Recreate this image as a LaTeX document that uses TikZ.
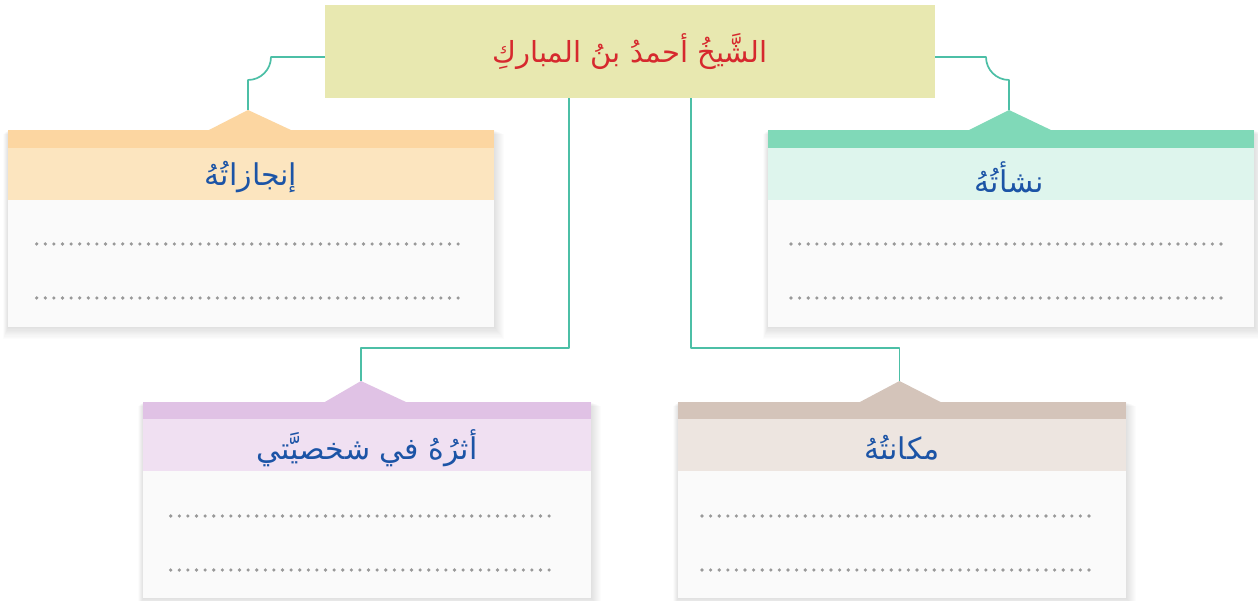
\documentclass[tikz,border=0pt]{standalone}
\usepackage{fontspec}
\usepackage{tikz}
\TeXXeTstate=1
\newfontfamily\arabicfont[Script=Arabic]{DejaVu Sans}
\definecolor{titleolive}{rgb}{0.91,0.91,0.69}
\definecolor{titlered}{rgb}{0.84,0.16,0.18}
\definecolor{headblue}{rgb}{0.11,0.33,0.65}
\definecolor{linkteal}{rgb}{0.3,0.75,0.65}
\definecolor{peachdark}{rgb}{0.99,0.84,0.63}
\definecolor{peachlight}{rgb}{0.99,0.9,0.75}
\definecolor{mintdark}{rgb}{0.5,0.85,0.72}
\definecolor{mintlight}{rgb}{0.87,0.96,0.93}
\definecolor{lilacdark}{rgb}{0.88,0.76,0.9}
\definecolor{lilaclight}{rgb}{0.94,0.88,0.95}
\definecolor{sanddark}{rgb}{0.83,0.77,0.73}
\definecolor{sandlight}{rgb}{0.93,0.9,0.88}
\definecolor{cardgray}{rgb}{0.98,0.98,0.98}
\definecolor{dotgray}{rgb}{0.6,0.6,0.6}
\tikzset{
  link/.style={linkteal, line width=1.7pt},
  shadowstep/.style={black, opacity=0.011},
  dotline/.style={dotgray, line width=3.6pt, line cap=round, dash pattern=on 0pt off 8.6pt},
  headtext/.style={text=headblue, inner sep=0pt, font=\arabicfont\fontsize{30}{34}\selectfont},
}

\begin{document}
\begin{tikzpicture}[line join=round, x=1pt, y=-1pt]
\fill[white] (0,0) rectangle (1258,601);
\useasboundingbox (0,0) rectangle (1258,601);
\node[fill=titleolive, minimum width=610pt, minimum height=93pt, inner sep=0pt, text=titlered, font=\arabicfont\fontsize{29}{33}\selectfont] (sheikh) at (630,51.5) {\beginR الشَّيخُ أحمدُ بنُ المباركِ\endR};
% injazat
\foreach \d in {1,...,10} \fill[shadowstep] (8-0.5*\d,130+0.4*\d) rectangle (494+\d,327+1.2*\d);
\fill[cardgray] (8,130) rectangle (494,327);
\fill[peachlight] (8,148) rectangle (494,200);
\fill[peachdark] (8,130) rectangle (494,148);
\coordinate (injazat-tip) at (248,110);
\fill[peachdark] (208,130.5) -- (injazat-tip) -- (292,130.5) -- cycle;
\node[headtext] (injazat) at (251,177) {\beginR إنجازاتُهُ\endR};
\draw[dotline] (36.7,244) -- (466,244);
\draw[dotline] (36.7,298) -- (466,298);
% nashaa
\foreach \d in {1,...,10} \fill[shadowstep] (768-0.5*\d,130+0.4*\d) rectangle (1254+\d,327+1.2*\d);
\fill[cardgray] (768,130) rectangle (1254,327);
\fill[mintlight] (768,148) rectangle (1254,200);
\fill[mintdark] (768,130) rectangle (1254,148);
\coordinate (nashaa-tip) at (1009,110);
\fill[mintdark] (968,130.5) -- (nashaa-tip) -- (1052,130.5) -- cycle;
\node[headtext] (nashaa) at (1009,177) {\beginR نشأتُهُ\endR};
\draw[dotline] (791,244) -- (1221,244);
\draw[dotline] (791,298) -- (1221,298);
% athar
\foreach \d in {1,...,10} \fill[shadowstep] (143-0.5*\d,402+0.4*\d) rectangle (591+\d,598+1.2*\d);
\fill[cardgray] (143,402) rectangle (591,598);
\fill[lilaclight] (143,419) rectangle (591,471);
\fill[lilacdark] (143,402) rectangle (591,419);
\coordinate (athar-tip) at (361,381);
\fill[lilacdark] (324,402.5) -- (athar-tip) -- (407,402.5) -- cycle;
\node[headtext] (athar) at (367,448) {\beginR أثرُهُ في شخصيَّتي\endR};
\draw[dotline] (170.7,516) -- (557,516);
\draw[dotline] (170.7,570) -- (557,570);
% makana
\foreach \d in {1,...,10} \fill[shadowstep] (678-0.5*\d,402+0.4*\d) rectangle (1126+\d,598+1.2*\d);
\fill[cardgray] (678,402) rectangle (1126,598);
\fill[sandlight] (678,419) rectangle (1126,471);
\fill[sanddark] (678,402) rectangle (1126,419);
\coordinate (makana-tip) at (899.5,381);
\fill[sanddark] (859,402.5) -- (makana-tip) -- (941.5,402.5) -- cycle;
\node[headtext] (makana) at (902,448) {\beginR مكانتُهُ\endR};
\draw[dotline] (702,516) -- (1089,516);
\draw[dotline] (702,570) -- (1089,570);
% links
\draw[link] ([yshift=-5.5pt]sheikh.west) -- (271,57) arc[start angle=0, end angle=90, radius=23] -- (injazat-tip);
\draw[link] ([yshift=-5.5pt]sheikh.east) -- (986,57) arc[start angle=180, end angle=90, radius=23] -- (nashaa-tip);
\draw[link] ([xshift=-61pt]sheikh.south) -- (569,348) -| (athar-tip);
\draw[link] ([xshift=61pt]sheikh.south) -- (691,348) -| (makana-tip);
\end{tikzpicture}
\end{document}
